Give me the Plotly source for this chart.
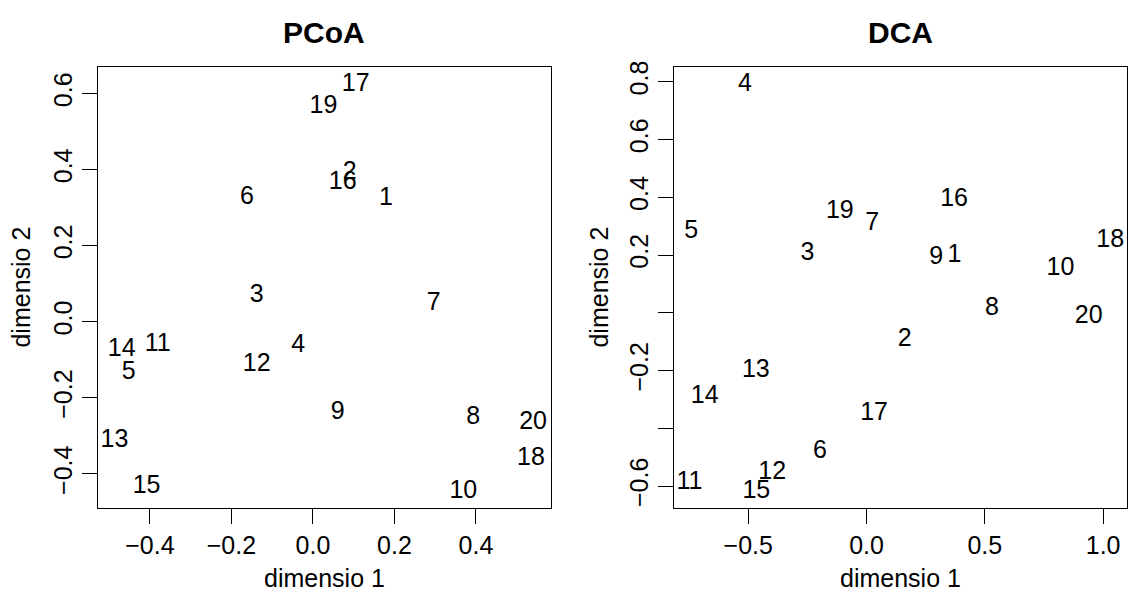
import plotly.graph_objects as go

# ---- data ----
sites = [str(i) for i in range(1, 21)]
pcoa_x = [0.179, 0.090, -0.138, -0.036, -0.452, -0.162, 0.296, 0.393, 0.061, 0.369,
          -0.381, -0.138, -0.487, -0.469, -0.408, 0.073, 0.105, 0.535, 0.026, 0.540]
pcoa_y = [0.323, 0.393, 0.068, -0.064, -0.135, 0.327, 0.047, -0.252, -0.240, -0.447,
          -0.060, -0.114, -0.313, -0.073, -0.434, 0.365, 0.623, -0.360, 0.565, -0.265]
dca_x = [0.372, 0.161, -0.250, -0.514, -0.741, -0.197, 0.024, 0.530, 0.294, 0.820,
         -0.749, -0.399, -0.468, -0.684, -0.466, 0.370, 0.032, 1.030, -0.113, 0.939]
dca_y = [0.198, -0.093, 0.206, 0.789, 0.281, -0.481, 0.308, 0.015, 0.190, 0.152,
         -0.590, -0.555, -0.199, -0.291, -0.620, 0.392, -0.348, 0.251, 0.351, -0.013]

pcoa_xticks = [-0.4, -0.2, 0.0, 0.2, 0.4]
pcoa_yticks = [-0.4, -0.2, 0.0, 0.2, 0.4, 0.6]
dca_xticks = [-0.5, 0.0, 0.5, 1.0]
dca_yticks = [-0.6, -0.4, -0.2, 0.0, 0.2, 0.4, 0.6, 0.8]
dca_ytext = ["\u22120.6", "", "\u22120.2", "", "0.2", "0.4", "0.6", "0.8"]

titles = ["PCoA", "DCA"]
xlab = "dimensio 1"
ylab = "dimensio 2"

FONT = "Liberation Sans, Arial, sans-serif"
W, H = 1132, 601
FS = 25

def fmt(v):
    s = f"{abs(v):.1f}"
    return ("\u2212" + s) if v < 0 else s

fig = go.Figure()
fig.add_trace(go.Scatter(x=pcoa_x, y=pcoa_y, text=sites, mode="text",
                         textposition="middle center",
                         textfont=dict(family=FONT, size=FS, color="black"),
                         xaxis="x", yaxis="y", hoverinfo="skip", showlegend=False))
fig.add_trace(go.Scatter(x=dca_x, y=dca_y, text=sites, mode="text",
                         textposition="middle center",
                         textfont=dict(family=FONT, size=FS, color="black"),
                         xaxis="x2", yaxis="y2", hoverinfo="skip", showlegend=False))

ydom = [1 - 506.7 / H, 1 - 61 / H]
xdom1 = [97.7 / W, 551 / W]
xdom2 = [674 / W, 1127 / W]

axcommon = dict(showgrid=False, zeroline=False, showline=True, linecolor="black",
                linewidth=1.3, mirror=True, ticks="outside", ticklen=15,
                tickwidth=1.3, tickcolor="black",
                tickfont=dict(family=FONT, size=FS, color="black"))

fig.update_layout(
    width=W, height=H, margin=dict(l=0, r=0, t=0, b=0),
    paper_bgcolor="white", plot_bgcolor="white",
    xaxis=dict(domain=xdom1, range=[-0.528, 0.584], anchor="y",
               tickvals=pcoa_xticks, ticktext=[fmt(v) for v in pcoa_xticks],
               **axcommon),
    yaxis=dict(domain=ydom, range=[-0.489, 0.669], anchor="x",
               tickvals=pcoa_yticks, ticktext=[fmt(v) for v in pcoa_yticks],
               tickangle=-90, **axcommon),
    xaxis2=dict(domain=xdom2, range=[-0.814, 1.101], anchor="y2",
                tickvals=dca_xticks, ticktext=[fmt(v) for v in dca_xticks],
                **axcommon),
    yaxis2=dict(domain=ydom, range=[-0.675, 0.850], anchor="x2",
                tickvals=dca_yticks, ticktext=dca_ytext,
                tickangle=-90, **axcommon),
)

ann = []
for dom, t in zip([xdom1, xdom2], titles):
    cx = (dom[0] + dom[1]) / 2
    ann.append(dict(x=cx, y=1 - 26 / H, xref="paper", yref="paper",
                    text=f"<b>{t}</b>", showarrow=False,
                    font=dict(family=FONT, size=30, color="black"),
                    xanchor="center", yanchor="middle"))
    ann.append(dict(x=cx, y=1 - 578 / H, xref="paper", yref="paper",
                    text=xlab, showarrow=False,
                    font=dict(family=FONT, size=FS, color="black"),
                    xanchor="center", yanchor="middle"))
for px, dom in zip([21, 599], [xdom1, xdom2]):
    ann.append(dict(x=px / W, y=(ydom[0] + ydom[1]) / 2, xref="paper", yref="paper",
                    text=ylab, showarrow=False, textangle=-90,
                    font=dict(family=FONT, size=FS, color="black"),
                    xanchor="center", yanchor="middle"))
fig.update_layout(annotations=ann)

fig.write_html("out.html")
